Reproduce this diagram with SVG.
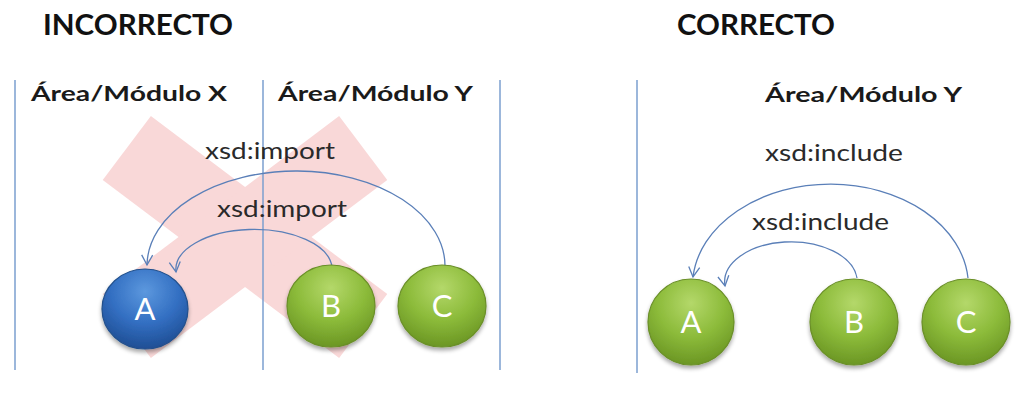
<svg xmlns="http://www.w3.org/2000/svg" width="1025" height="409" viewBox="0 0 1025 409">
  <defs>
    <radialGradient id="gGreen" cx="50%" cy="28%" r="72%">
      <stop offset="0" stop-color="#b4d86a"/>
      <stop offset="0.55" stop-color="#8cbb3a"/>
      <stop offset="1" stop-color="#6b9624"/>
    </radialGradient>
    <radialGradient id="gBlue" cx="50%" cy="28%" r="72%">
      <stop offset="0" stop-color="#5c98de"/>
      <stop offset="0.55" stop-color="#336fc2"/>
      <stop offset="1" stop-color="#1f4e94"/>
    </radialGradient>
    <filter id="shadow" x="-20%" y="-20%" width="140%" height="150%">
      <feGaussianBlur in="SourceAlpha" stdDeviation="2"/>
      <feOffset dx="0" dy="3" result="b"/>
      <feComponentTransfer><feFuncA type="linear" slope="0.35"/></feComponentTransfer>
      <feMerge><feMergeNode/><feMergeNode in="SourceGraphic"/></feMerge>
    </filter>
    <marker id="arrow" markerWidth="14" markerHeight="14" refX="0" refY="0" viewBox="-12 -7 14 14" orient="auto" markerUnits="userSpaceOnUse">
      <path d="M -10 -5.5 L 0 0 L -10 5.5" fill="none" stroke="#5a7fb8" stroke-width="1.3"/>
    </marker>
  </defs>
  <style>
    .title { font-family: Lato, "Liberation Sans", sans-serif; font-weight: bold; font-size: 29px; fill: #111; }
    .area { font-family: Lato, "Liberation Sans", sans-serif; font-weight: bold; font-size: 21px; fill: #1a1a1a; }
    .lbl { font-family: Lato, "Liberation Sans", sans-serif; font-size: 24px; fill: #2a2a2a; }
    .letter { font-family: Lato, "Liberation Sans", sans-serif; font-size: 31px; fill: #ffffff; text-anchor: middle; }
    .divider { stroke: #7b9fcf; stroke-width: 1.5; }
    .conn { fill: none; stroke: #5a7fb8; stroke-width: 1.3; marker-end: url(#arrow); }
    .green { fill: url(#gGreen); stroke: #6a8f28; stroke-width: 1.2; filter: url(#shadow); }
    .blue { fill: url(#gBlue); stroke: #22508c; stroke-width: 1.2; filter: url(#shadow); }
  </style>

  <rect width="1025" height="409" fill="#ffffff"/>

  <!-- cross marking the wrong approach -->
  <g id="cross" fill="#f9d8d8">
    <rect x="97" y="197" width="296" height="80" transform="rotate(37 245 237)"/>
    <rect x="97" y="197" width="296" height="80" transform="rotate(-37 245 237)"/>
  </g>

  <!-- titles -->
  <text class="title" x="43" y="35" textLength="190" lengthAdjust="spacingAndGlyphs">INCORRECTO</text>
  <text class="title" x="677" y="35" textLength="158" lengthAdjust="spacingAndGlyphs">CORRECTO</text>

  <!-- module dividers -->
  <g id="dividers">
    <line class="divider" x1="15" y1="80" x2="15" y2="370"/>
    <line class="divider" x1="263" y1="80" x2="263" y2="370"/>
    <line class="divider" x1="500" y1="80" x2="500" y2="370"/>
    <line class="divider" x1="637" y1="80" x2="637" y2="373"/>
  </g>

  <!-- module headers -->
  <text class="area" x="31" y="101" textLength="196" lengthAdjust="spacingAndGlyphs">Área/Módulo X</text>
  <text class="area" x="278" y="101" textLength="195" lengthAdjust="spacingAndGlyphs">Área/Módulo Y</text>
  <text class="area" x="765" y="102" textLength="197" lengthAdjust="spacingAndGlyphs">Área/Módulo Y</text>

  <!-- connectors -->
  <g id="connectors">
    <path class="conn" d="M 445 267 A 149 95 0 0 0 147 265"/>
    <path class="conn" d="M 332 267 A 78 40 0 0 0 176 272"/>
    <path class="conn" d="M 968 278 A 138 102 0 0 0 693 277"/>
    <path class="conn" d="M 857 278 A 66 40 0 0 0 725 286"/>
  </g>

  <!-- connector labels -->
  <g id="labels">
    <text class="lbl" x="205" y="159" textLength="130" lengthAdjust="spacingAndGlyphs">xsd:import</text>
    <text class="lbl" x="217" y="217" textLength="130" lengthAdjust="spacingAndGlyphs">xsd:import</text>
    <text class="lbl" x="765" y="161" textLength="138" lengthAdjust="spacingAndGlyphs">xsd:include</text>
    <text class="lbl" x="752" y="230" textLength="137" lengthAdjust="spacingAndGlyphs">xsd:include</text>
  </g>

  <!-- schemas, wrong layout -->
  <g id="node-a-x">
    <ellipse class="blue" cx="145" cy="309" rx="43" ry="40"/>
    <text class="letter" x="145" y="320">A</text>
  </g>
  <g id="node-b-y">
    <ellipse class="green" cx="331" cy="306" rx="44" ry="41"/>
    <text class="letter" x="331" y="317">B</text>
  </g>
  <g id="node-c-y">
    <ellipse class="green" cx="442" cy="306" rx="44" ry="41"/>
    <text class="letter" x="442" y="317">C</text>
  </g>

  <!-- schemas, right layout -->
  <g id="node-a">
    <ellipse class="green" cx="691" cy="322" rx="43" ry="43"/>
    <text class="letter" x="691" y="333">A</text>
  </g>
  <g id="node-b">
    <ellipse class="green" cx="854" cy="322" rx="44" ry="43"/>
    <text class="letter" x="854" y="333">B</text>
  </g>
  <g id="node-c">
    <ellipse class="green" cx="966" cy="322" rx="44" ry="43"/>
    <text class="letter" x="966" y="333">C</text>
  </g>
</svg>
